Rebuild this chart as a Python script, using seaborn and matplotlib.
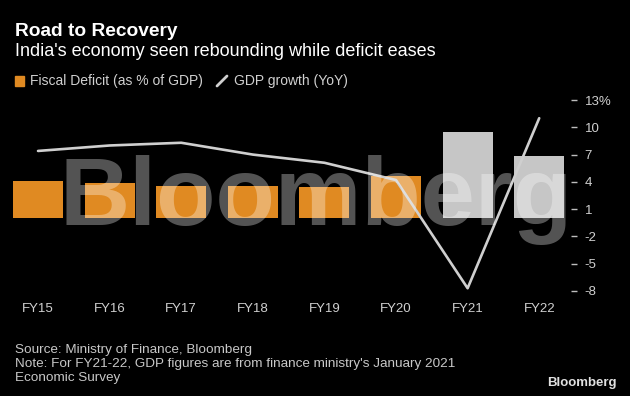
import numpy as np
import matplotlib
matplotlib.use("Agg")
import matplotlib.pyplot as plt
import seaborn as sns
from matplotlib.patches import Rectangle
from matplotlib.lines import Line2D

years = ["FY15", "FY16", "FY17", "FY18", "FY19", "FY20", "FY21", "FY22"]
deficit = [4.1, 3.9, 3.5, 3.5, 3.4, 4.6, 9.5, 6.8]
gdp = [7.4, 8.0, 8.3, 7.0, 6.1, 4.2, -7.7, 11.0]
bar_colors = ["#e08a22"] * 6 + ["#c6c6c6"] * 2
yticks = [-8, -5, -2, 1, 4, 7, 10, 13]
ytick_labels = ["-8", "-5", "-2", "1", "4", "7", "10", "13%"]

sns.set_style("dark", {"axes.facecolor": "black", "figure.facecolor": "black"})
plt.rcParams['font.family'] = ['Liberation Sans', 'DejaVu Sans']

W, H = 630, 396
fig = plt.figure(figsize=(6.3, 3.96), dpi=100, facecolor='black')
ax = fig.add_axes([2 / W, 1 - 292.8 / H, 569 / W, (292.8 - 98.2) / H])
ax.set_facecolor('black')

# bars + line
sns.barplot(x=years, y=deficit, hue=years, palette=bar_colors, legend=False,
            width=0.7, saturation=1, linewidth=0, ax=ax)
sns.lineplot(x=np.arange(len(years)), y=gdp, color='#cfcfcf', lw=1.9, ax=ax)

ax.set_xlim(-0.503, 7.444)
ax.set_ylim(-8.2, 13.2)
ax.set_xlabel('')
ax.set_ylabel('')
ax.grid(False)
for s in ax.spines.values():
    s.set_visible(False)

ax.yaxis.tick_right()
ax.set_yticks(yticks, ytick_labels)
ax.set_xticks(range(len(years)), years)
ax.tick_params(axis='y', length=4.3, width=1, color='#bdbdbd', pad=5.5,
               labelsize=9.5, labelcolor='#d0d0d0', direction='out')
ax.tick_params(axis='x', length=3.6, width=1, color='#bdbdbd', pad=4,
               labelsize=9.5, labelcolor='#d0d0d0', direction='out')

# title block
fig.text(15 / W, 1 - 31 / H, "Road to Recovery", ha='left', va='center',
         size=13.8, weight='bold', color='white')
fig.text(15 / W, 1 - 52 / H, "India's economy seen rebounding while deficit eases",
         ha='left', va='center', size=13, color='white')

# legend
fig.patches.append(Rectangle((15 / W, 1 - 86 / H), 9 / W, 10 / H,
                             transform=fig.transFigure, color='#e08a22'))
fig.text(30 / W, 1 - 81 / H, "Fiscal Deficit (as % of GDP)", ha='left', va='center',
         size=10, color='#d0d0d0')
fig.lines.append(Line2D([217 / W, 227 / W], [1 - 86 / H, 1 - 76 / H],
                        transform=fig.transFigure, color='#cfcfcf', lw=2))
fig.text(234 / W, 1 - 81 / H, "GDP growth (YoY)", ha='left', va='center',
         size=10, color='#d0d0d0')

# footer
fig.text(15 / W, 1 - 350 / H, "Source: Ministry of Finance, Bloomberg",
         ha='left', va='center', size=9.7, color='#c8c8c8')
fig.text(15 / W, 1 - 364 / H,
         "Note: For FY21-22, GDP figures are from finance ministry's January 2021",
         ha='left', va='center', size=9.7, color='#c8c8c8')
fig.text(15 / W, 1 - 378 / H, "Economic Survey",
         ha='left', va='center', size=9.7, color='#c8c8c8')
fig.text(617 / W, 1 - 383 / H, "Bloomberg", ha='right', va='center',
         size=9.5, weight='bold', color='#e0e0e0')

# watermark
fig.text(316 / W, 1 - 225 / H, "Bloomberg", ha='center', va='baseline',
         size=70, weight='bold', color='white', alpha=0.33)

fig.savefig('out.png', dpi=100, facecolor='black')
